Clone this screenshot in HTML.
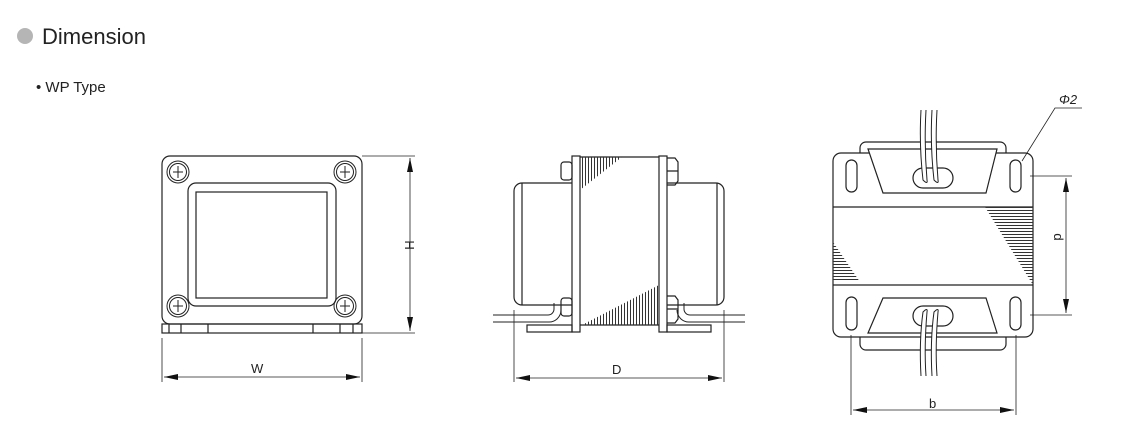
<!DOCTYPE html>
<html><head><meta charset="utf-8"><style>
html,body{margin:0;padding:0;background:#fff;width:1124px;height:442px;overflow:hidden}
svg{display:block}
text{font-family:"Liberation Sans",sans-serif;fill:#222}
</style></head><body>
<svg width="1124" height="442" viewBox="0 0 1124 442">
<defs>
<marker id="a" markerWidth="14" markerHeight="6" refX="14" refY="3" orient="auto-start-reverse" markerUnits="userSpaceOnUse"><path d="M0,0 L14,3 L0,6z" fill="#111"/></marker>
<pattern id="hv" width="3" height="4" patternUnits="userSpaceOnUse"><rect width="1" height="4" fill="#333"/></pattern>
<pattern id="hh" width="4" height="3" patternUnits="userSpaceOnUse"><rect width="4" height="1" fill="#333"/></pattern>
</defs>
<circle cx="25" cy="36" r="8" fill="#b5b5b5"/>
<text x="42" y="44" font-size="22">Dimension</text>
<text x="36" y="92" font-size="15">• WP Type</text>
<g fill="none" stroke="#222" stroke-width="1.2">
<!-- front -->
<rect x="162" y="156" width="200" height="168" rx="8"/>
<rect x="162" y="324" width="200" height="9"/>
<path d="M169 324v9M181 324v9M208 324v9M313 324v9M340 324v9M353 324v9"/>
<rect x="188" y="183" width="148" height="123" rx="8"/>
<rect x="196" y="192" width="131" height="106"/>
<g stroke-width="1">
<circle cx="178" cy="172" r="11"/><circle cx="178" cy="172" r="8.5"/>
<circle cx="345" cy="172" r="11"/><circle cx="345" cy="172" r="8.5"/>
<circle cx="178" cy="306" r="11"/><circle cx="178" cy="306" r="8.5"/>
<circle cx="345" cy="306" r="11"/><circle cx="345" cy="306" r="8.5"/>
<path d="M173 172h10M178 166v12M340 172h10M345 166v12M173 306h10M178 300v12M340 306h10M345 300v12"/>
</g>
<path d="M362 156h53M362 333h53M162 338v44M362 338v44" stroke-width="0.8"/>
<path d="M410 158V331" marker-start="url(#a)" marker-end="url(#a)" stroke-width="0.8"/>
<path d="M164 377H360" marker-start="url(#a)" marker-end="url(#a)" stroke-width="0.8"/>
<!-- side -->
<path d="M572 183H522a8 8 0 0 0-8 8V297a8 8 0 0 0 8 8H572"/>
<path d="M522 183V305"/>
<path d="M667 183H716a8 8 0 0 1 8 8V297a8 8 0 0 1-8 8H667"/>
<path d="M717 183V305"/>
<rect x="572" y="156" width="8" height="176"/>
<rect x="659" y="156" width="8" height="176"/>
<rect x="527" y="325" width="45" height="7"/>
<rect x="667" y="325" width="44" height="7"/>
<path d="M580 157H659M580 325H659"/>
<path d="M580 157H622L580 190Z" fill="url(#hv)" stroke="none"/>
<path d="M659 285V325H582Z" fill="url(#hv)" stroke="none"/>
<rect x="561" y="162" width="11" height="18" rx="3"/>
<rect x="561" y="298" width="11" height="18" rx="3"/>
<path d="M667 158h8l3 4v19l-3 4h-8M667 171h11"/>
<path d="M667 296h8l3 4v19l-3 4h-8M667 309h11"/>
<path d="M493 315H548a6 6 0 0 0 6-6V303M493 322H548a12 12 0 0 0 13-12M745 315H690a6 6 0 0 1-6-6V303M745 322H690a12 12 0 0 1-13-12" stroke-width="1"/>
<path d="M514 310v72M724 310v72" stroke-width="0.8"/>
<path d="M516 378H722" marker-start="url(#a)" marker-end="url(#a)" stroke-width="0.8"/>
<!-- top -->
<path d="M860 153V148a6 6 0 0 1 6-6H1000a6 6 0 0 1 6 6V153"/>
<path d="M860 337V344a6 6 0 0 0 6 6H1000a6 6 0 0 0 6-6V337"/>
<rect x="833" y="153" width="200" height="184" rx="8"/>
<path d="M833 207H1033M833 285H1033"/>
<path d="M985 207H1033V285Z" fill="url(#hh)" stroke="none"/>
<path d="M833 242V282H860Z" fill="url(#hh)" stroke="none"/>
<path d="M868 149H997L986 193H883Z" fill="#fff"/>
<path d="M883 298H986L997 333H868Z" fill="#fff"/>
<rect x="846" y="160" width="11" height="32" rx="5.5"/>
<rect x="1010" y="160" width="11" height="32" rx="5.5"/>
<rect x="846" y="297" width="11" height="33" rx="5.5"/>
<rect x="1010" y="297" width="11" height="33" rx="5.5"/>
<rect x="913" y="168" width="40" height="20" rx="10" fill="#fff"/>
<rect x="913" y="306" width="40" height="20" rx="10" fill="#fff"/>
<g stroke-width="1">
<path d="M921 110q-2 35 2 70q5 5 4 0q-3-35-1-70M932 110q-2 35 2 70q5 5 4 0q-3-35-1-70" fill="#fff"/>
<path d="M921 376q-2-35 2-64q5-5 4 0q-3 35-1 64M932 376q-2-35 2-64q5-5 4 0q-3 35-1 64" fill="#fff"/>
</g>
<path d="M1022 161L1055 108H1082" stroke-width="0.8"/>
<path d="M1030 176h42M1030 315h42M851 335v80M1016 335v80" stroke-width="0.8"/>
<path d="M1066 178V313" marker-start="url(#a)" marker-end="url(#a)" stroke-width="0.8"/>
<path d="M853 410H1014" marker-start="url(#a)" marker-end="url(#a)" stroke-width="0.8"/>
</g>
<text x="1059" y="104" font-size="13" font-style="italic">Φ2</text>
<text x="251" y="373" font-size="13">W</text>
<text x="612" y="374" font-size="13">D</text>
<text x="929" y="408" font-size="13">b</text>
<text transform="translate(405,245) rotate(90)" font-size="13" text-anchor="middle">H</text>
<text transform="translate(1054,237) rotate(90)" font-size="13" text-anchor="middle">d</text>
</svg>
</body></html>
